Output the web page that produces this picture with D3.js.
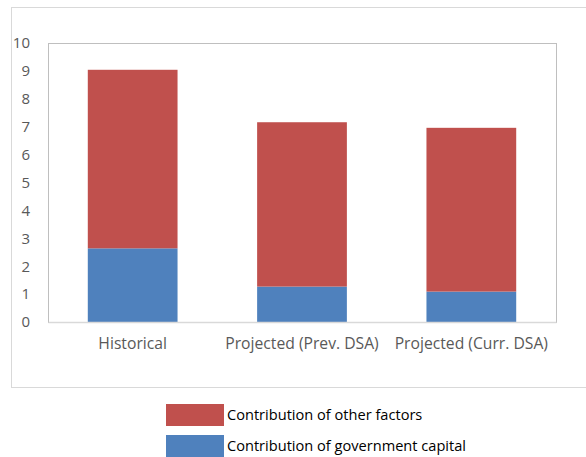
<!DOCTYPE html>
<html>
<head>
<meta charset="utf-8">
<script src="https://cdn.jsdelivr.net/npm/d3@7/dist/d3.min.js"></script>
<style>
  html, body { margin: 0; padding: 0; background: #fff; }
  text { font-family: "Open Sans", "Noto Sans", sans-serif; }
</style>
</head>
<body>
<svg id="chart" width="586" height="457"></svg>
<script>
const categories = ["Historical", "Projected (Prev. DSA)", "Projected (Curr. DSA)"];
const govCapital = [2.64, 1.27, 1.09];
const otherFactors = [6.40, 5.89, 5.87];
const seriesNames = ["Contribution of other factors", "Contribution of government capital"];
const seriesColors = ["#c0504d", "#4f81bd"];
const yTicks = [0, 1, 2, 3, 4, 5, 6, 7, 8, 9, 10];

const svg = d3.select("#chart");
const plot = { left: 48, top: 43, right: 556, bottom: 322 };

// outer chart border
svg.append("rect")
  .attr("x", 11.5).attr("y", 7.5)
  .attr("width", 600).attr("height", 380)
  .attr("fill", "none").attr("stroke", "#d9d9d9").attr("stroke-width", 1);

const x = d3.scaleBand().domain(categories)
  .range([plot.left, plot.right])
  .paddingInner(0.47).paddingOuter(0.235);
const y = d3.scaleLinear().domain([0, 10]).range([plot.bottom, plot.top]);

// plot area border
svg.append("rect")
  .attr("x", plot.left + 0.5).attr("y", plot.top + 0.5)
  .attr("width", plot.right - plot.left).attr("height", plot.bottom - plot.top)
  .attr("fill", "none").attr("stroke", "#bfbfbf").attr("stroke-width", 1);

const rows = categories.map((c, i) => ({ cat: c, gov: govCapital[i], other: otherFactors[i] }));
const stack = d3.stack().keys(["gov", "other"])(rows);
const colorByKey = { gov: seriesColors[1], other: seriesColors[0] };

svg.append("g").selectAll("g").data(stack).join("g")
  .attr("fill", d => colorByKey[d.key])
  .selectAll("rect").data(d => d).join("rect")
  .attr("x", d => x(d.data.cat))
  .attr("width", x.bandwidth())
  .attr("y", d => y(d[1]))
  .attr("height", d => y(d[0]) - y(d[1]));

// y axis labels
const yAxis = d3.axisLeft(y).tickValues(yTicks).tickSize(0).tickPadding(0).tickFormat(d3.format("d"));
const yg = svg.append("g").attr("transform", `translate(30,0)`).call(yAxis);
yg.select(".domain").remove();
yg.selectAll("text").attr("fill", "#595959").style("font-size", "15px")
  .style("font-family", '"Open Sans", "Noto Sans", sans-serif');

// x axis
const xAxis = d3.axisBottom(x).tickSize(0).tickPadding(16);
const xg = svg.append("g").attr("transform", `translate(0,${plot.bottom})`).call(xAxis);
xg.select(".domain").attr("stroke", "#d9d9d9").attr("stroke-width", 1.5);
xg.selectAll("text").attr("fill", "#595959").style("font-size", "15.7px")
  .style("font-family", '"Open Sans", "Noto Sans", sans-serif');

// legend
const legend = svg.append("g");
seriesNames.forEach((name, i) => {
  const gy = 404 + i * 31;
  legend.append("rect").attr("x", 166).attr("y", gy).attr("width", 58).attr("height", 22)
    .attr("fill", seriesColors[i]);
  legend.append("text").attr("x", 227).attr("y", gy + 11).attr("dy", "0.35em")
    .attr("fill", "#000").style("font-size", "14.6px").text(name);
});
</script>
</body>
</html>
